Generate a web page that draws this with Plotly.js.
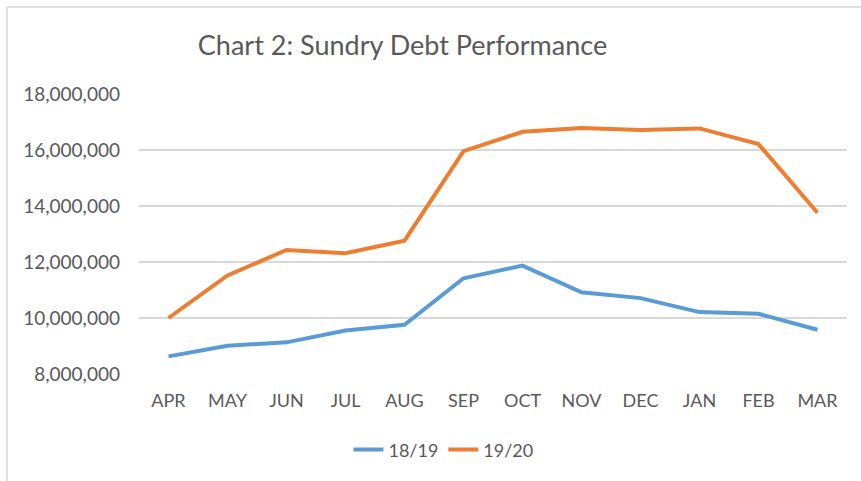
<!DOCTYPE html>
<html>
<head>
<meta charset="utf-8">
<script src="https://cdn.plot.ly/plotly-3.0.1.min.js"></script>
<style>html,body{margin:0;padding:0;background:#fff;}#chart{width:861px;height:481px;}</style>
</head>
<body>
<div id="chart"></div>
<script>
const months = ["APR","MAY","JUN","JUL","AUG","SEP","OCT","NOV","DEC","JAN","FEB","MAR"];
const debt1819 = [8630000, 9010000, 9130000, 9550000, 9760000, 11420000, 11870000, 10920000, 10710000, 10210000, 10150000, 9580000];
const debt1920 = [10000000, 11520000, 12430000, 12310000, 12760000, 15960000, 16650000, 16790000, 16710000, 16770000, 16210000, 13760000];
const yTicks = [8000000, 10000000, 12000000, 14000000, 16000000, 18000000];
const yTickText = ["8,000,000","10,000,000","12,000,000","14,000,000","16,000,000","18,000,000"];

const FONT = "Lato, 'Open Sans', sans-serif";
const traces = [
  {x: months, y: debt1819, name: "18/19", type: "scatter", mode: "lines",
   line: {color: "#5B9BD5", width: 4}},
  {x: months, y: debt1920, name: "19/20", type: "scatter", mode: "lines",
   line: {color: "#ED7D31", width: 4}}
];
const layout = {
  width: 861, height: 481,
  margin: {l: 139, r: 14, t: 94, b: 107},
  paper_bgcolor: "#ffffff", plot_bgcolor: "#ffffff",
  font: {family: FONT, color: "#595959", size: 18},
  title: {text: "Chart 2: Sundry Debt Performance", font: {family: FONT, size: 27, color: "#595959"},
          xref: "container", x: 402.5/861, xanchor: "center",
          yref: "container", y: 1 - 46/481, yanchor: "middle"},
  showlegend: true,
  legend: {orientation: "h", x: 0.43, xanchor: "center", y: -0.271, yanchor: "middle",
           font: {family: FONT, size: 18, color: "#595959"}, traceorder: "normal"},
  xaxis: {type: "category", showgrid: false, zeroline: false, showline: false, ticks: "",
          tickfont: {family: FONT, size: 18, color: "#595959"}, ticklabelstandoff: 14,
          range: [-0.5, 11.5], fixedrange: true},
  yaxis: {range: [8000000, 18000000], tickvals: yTicks, ticktext: yTickText,
          showgrid: true, gridcolor: "#d9d9d9", gridwidth: 1.5, zeroline: false, showline: false,
          ticks: "", tickfont: {family: FONT, size: 19, color: "#595959"}, ticklabelstandoff: 18,
          fixedrange: true},
  shapes: [
    {type: "line", xref: "paper", yref: "paper", x0: (7-139)/708, x1: (861-139)/708 + 0.05,
     y0: (374-7)/280, y1: (374-7)/280, line: {color: "#d9d9d9", width: 1.5}},
    {type: "line", xref: "paper", yref: "paper", x0: (7-139)/708, x1: (7-139)/708,
     y0: (374-7)/280, y1: (374-490)/280, line: {color: "#d9d9d9", width: 1.5}}
  ]
};
Plotly.newPlot("chart", traces, layout, {displayModeBar: false, staticPlot: true});
</script>
</body>
</html>
